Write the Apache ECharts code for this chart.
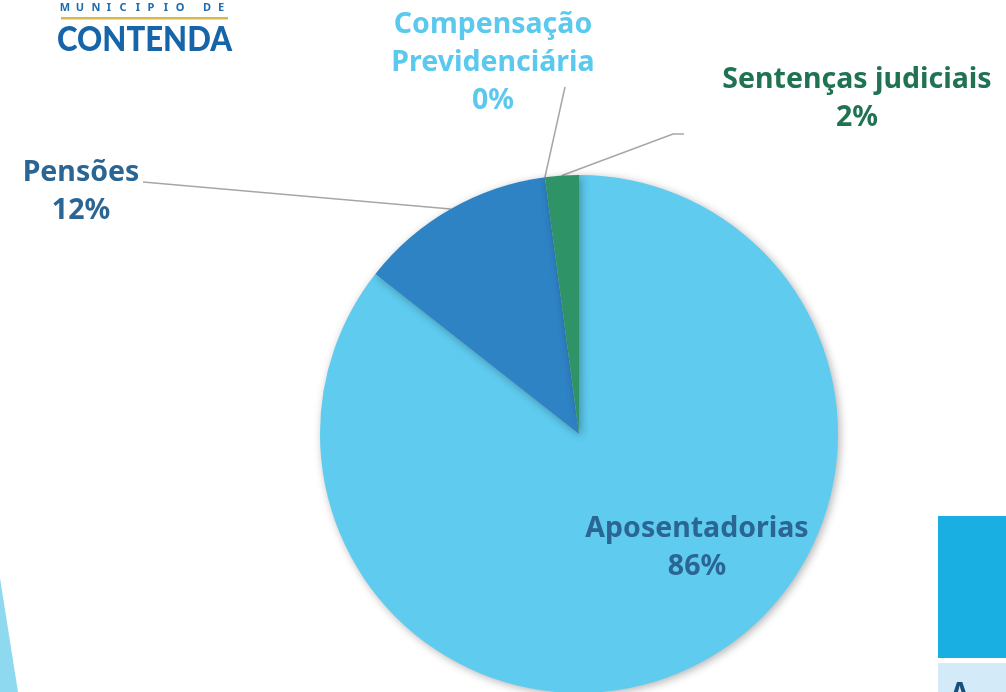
<!DOCTYPE html>
<html>
<head>
<meta charset="utf-8">
<script src="https://cdn.jsdelivr.net/npm/echarts@6/dist/echarts.min.js"></script>
<style>
	html, body { margin: 0; padding: 0; background: #fff; }
	#main { width: 1006px; height: 692px; }
</style>
</head>
<body>
<div id="main"></div>
<script>
	// dados do gráfico
	var categorias = ['Aposentadorias', 'Pensões', 'Compensação\nPrevidenciária', 'Sentenças judiciais'];
	var valores = [85.6, 12.3, 0, 2.1];
	var cores = ['#5ECBEF', '#2E83C5', '#5ECBEF', '#2E9467'];
	var coresTexto = ['#2B6594', '#2B6594', '#5BC9EE', '#1F7352'];

	// posição dos rótulos (centro do texto) e pontos finais das linhas
	var rotuloPos = [[697, 548], [81, 192], [493, 63], [857, 99]];
	var linhaFim = [null, [[143, 182]], [[565, 87]], [[673, 134], [684, 134]]];

	var dados = [];
	for (var i = 0; i < categorias.length; i++) {
		dados.push({
			name: categorias[i],
			value: valores[i],
			itemStyle: { color: cores[i] },
			label: { color: coresTexto[i] },
			labelLine: { show: i > 0 }
		});
	}

	// logo: letras espaçadas de "MUNICIPIO DE"
	var letras = 'MUNICIPIODE'.split('');
	var letrasX = [65, 80, 96, 109, 123, 138, 151, 166, 180, 207, 221];
	var graficos = [];
	for (var k = 0; k < letras.length; k++) {
		graficos.push({
			type: 'text', x: letrasX[k], y: 8,
			style: { text: letras[k], font: 'bold 11px "Noto Sans"', fill: '#1E6BB0', align: 'center', verticalAlign: 'middle' }
		});
	}
	graficos.push(
		{ type: 'rect', shape: { x: 61, y: 17, width: 167, height: 2.5 }, style: { fill: '#D8B84A' } },
		{ type: 'text', x: 57, y: 40, scaleX: 0.89, style: { text: 'CONTENDA', font: '900 35px Lato', fill: '#1565A8', verticalAlign: 'middle' } },
		{ type: 'polygon', shape: { points: [[0, 578], [0, 692], [18, 692]] }, style: { fill: '#8FD9F0' } },
		{ type: 'rect', shape: { x: 938, y: 516, width: 68, height: 142 }, style: { fill: '#1AAFE3' } },
		{ type: 'rect', shape: { x: 938, y: 663, width: 68, height: 29 }, style: { fill: '#D3EBF8' } },
		{ type: 'text', left: 950, top: 681, style: { text: 'A', font: 'bold 28px "Noto Sans"', fill: '#1B4F7A' } }
	);

	var myChart = echarts.init(document.getElementById('main'));
	myChart.setOption({
		backgroundColor: '#FFF',
		animation: false,
		graphic: graficos,
		series: [{
			type: 'pie',
			center: [579, 434],
			radius: [0, 259],
			startAngle: 90,
			clockwise: true,
			avoidLabelOverlap: false,
			itemStyle: {
				shadowBlur: 8,
				shadowColor: 'rgba(0,0,0,0.3)',
				shadowOffsetX: 2,
				shadowOffsetY: 2
			},
			label: {
				show: true,
				position: 'outside',
				fontFamily: 'Noto Sans',
				fontWeight: 'bold',
				fontSize: 28.5,
				lineHeight: 38,
				align: 'center',
				formatter: function (p) {
					return p.name + '\n' + Math.round(p.percent) + '%';
				}
			},
			labelLine: {
				show: true,
				length: 20,
				length2: 10,
				lineStyle: { color: '#A6A6A6', width: 1.5 }
			},
			labelLayout: function (params) {
				var i = params.dataIndex;
				var pos = rotuloPos[i];
				var res = {
					x: pos[0],
					y: pos[1],
					align: 'center',
					verticalAlign: 'middle'
				};
				if (linhaFim[i] && params.labelLinePoints) {
					res.labelLinePoints = [params.labelLinePoints[0]].concat(linhaFim[i]);
				}
				return res;
			},
			data: dados
		}]
	});
</script>
</body>
</html>
